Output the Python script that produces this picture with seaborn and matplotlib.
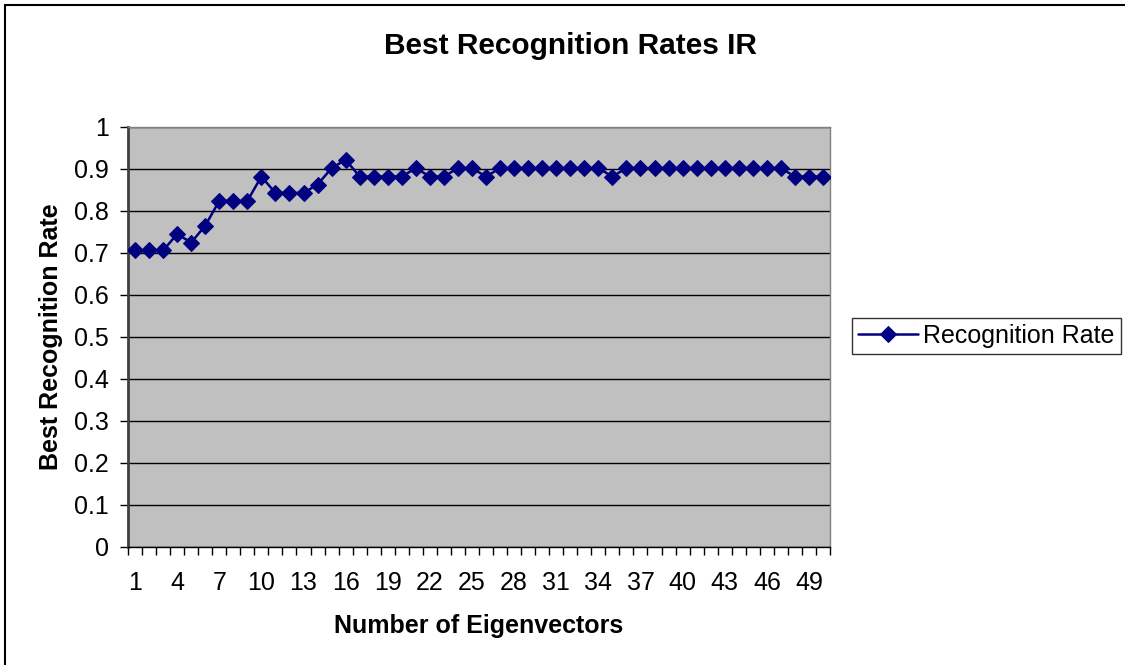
import numpy as np
import pandas as pd
import seaborn as sns
import matplotlib.pyplot as plt
from matplotlib.patches import Rectangle

# number of eigenvectors and the best recognition rate for each
eigenvectors = list(range(1, 51))
rates = [0.706, 0.706, 0.706, 0.745, 0.725, 0.765, 0.824, 0.824, 0.824, 0.882,
         0.843, 0.843, 0.843, 0.863, 0.902, 0.922, 0.882, 0.882, 0.882, 0.882,
         0.902, 0.882, 0.882, 0.902, 0.902, 0.882, 0.902, 0.902, 0.902, 0.902,
         0.902, 0.902, 0.902, 0.902, 0.882, 0.902, 0.902, 0.902, 0.902, 0.902,
         0.902, 0.902, 0.902, 0.902, 0.902, 0.902, 0.902, 0.882, 0.882, 0.882]
series_name = "Recognition Rate"
y_ticks = [0, 0.1, 0.2, 0.3, 0.4, 0.5, 0.6, 0.7, 0.8, 0.9, 1]
y_labels = ["0", "0.1", "0.2", "0.3", "0.4", "0.5", "0.6", "0.7", "0.8", "0.9", "1"]

df = pd.DataFrame({'n': eigenvectors, 'rate': rates, 'series': series_name})

sns.set_style('white')
plt.rcParams['font.family'] = ['Liberation Sans', 'DejaVu Sans']
plt.rcParams['text.color'] = 'black'
plt.rcParams['axes.labelcolor'] = 'black'
plt.rcParams['xtick.color'] = 'black'
plt.rcParams['ytick.color'] = 'black'

W, H = 1125, 665
fig = plt.figure(figsize=(W / 100, H / 100), dpi=100)
ax = fig.add_axes([128 / W, (H - 547) / H, (830 - 128) / W, (547 - 127) / H])
ax.set_facecolor('#C0C0C0')

sns.lineplot(data=df, x='n', y='rate', hue='series', palette=['#000080'],
             marker='D', markersize=8.5, markeredgecolor='#000080',
             linewidth=1.8, ax=ax, zorder=3)

ax.set_xlim(0.5, 50.5)
ax.set_ylim(0, 1)
ax.set_yticks(y_ticks)
ax.set_yticklabels(y_labels)
ax.yaxis.grid(True, color='black', linewidth=1)
ax.set_axisbelow(True)

# category labels every 3rd, tick marks on category boundaries
ax.set_xticks(eigenvectors[::3])
ax.set_xticks(np.arange(0.5, 51, 1), minor=True)
ax.tick_params(axis='x', which='major', length=0, pad=17, labelsize=18)
ax.tick_params(axis='x', which='minor', length=6, width=1, color='black', direction='out', bottom=True)
ax.tick_params(axis='y', length=6, width=1, color='black', direction='out', left=True, labelsize=18, pad=8)

for side in ['top', 'right']:
    ax.spines[side].set_color('#808080')
    ax.spines[side].set_linewidth(1)
ax.spines['left'].set_color('#404040')
ax.spines['left'].set_linewidth(2)
ax.spines['bottom'].set_color('black')
ax.spines['bottom'].set_linewidth(1)

ax.set_xlabel('Number of Eigenvectors', fontsize=18, fontweight='bold', labelpad=14)
ax.set_ylabel('Best Recognition Rate', fontsize=18, fontweight='bold', labelpad=8)
fig.text((383 + 757) / 2 / W, 1 - 46 / H, 'Best Recognition Rates IR',
         ha='center', va='center', fontsize=21.5, fontweight='bold')

leg = ax.legend(loc='center left', bbox_to_anchor=(852 / W, 1 - 336 / H),
                bbox_transform=fig.transFigure, fontsize=18, frameon=True,
                fancybox=False, edgecolor='black', handlelength=2.4,
                handletextpad=0.2, borderpad=0.25, borderaxespad=0)
leg.get_frame().set_linewidth(1)

# outer chart border (top and left visible)
fig.patches.append(Rectangle((5 / W, -0.1), 1.2, 1 - 5 / H + 0.1, transform=fig.transFigure,
                             fill=False, edgecolor='black', linewidth=1.5))

fig.savefig('out.png', dpi=100)
